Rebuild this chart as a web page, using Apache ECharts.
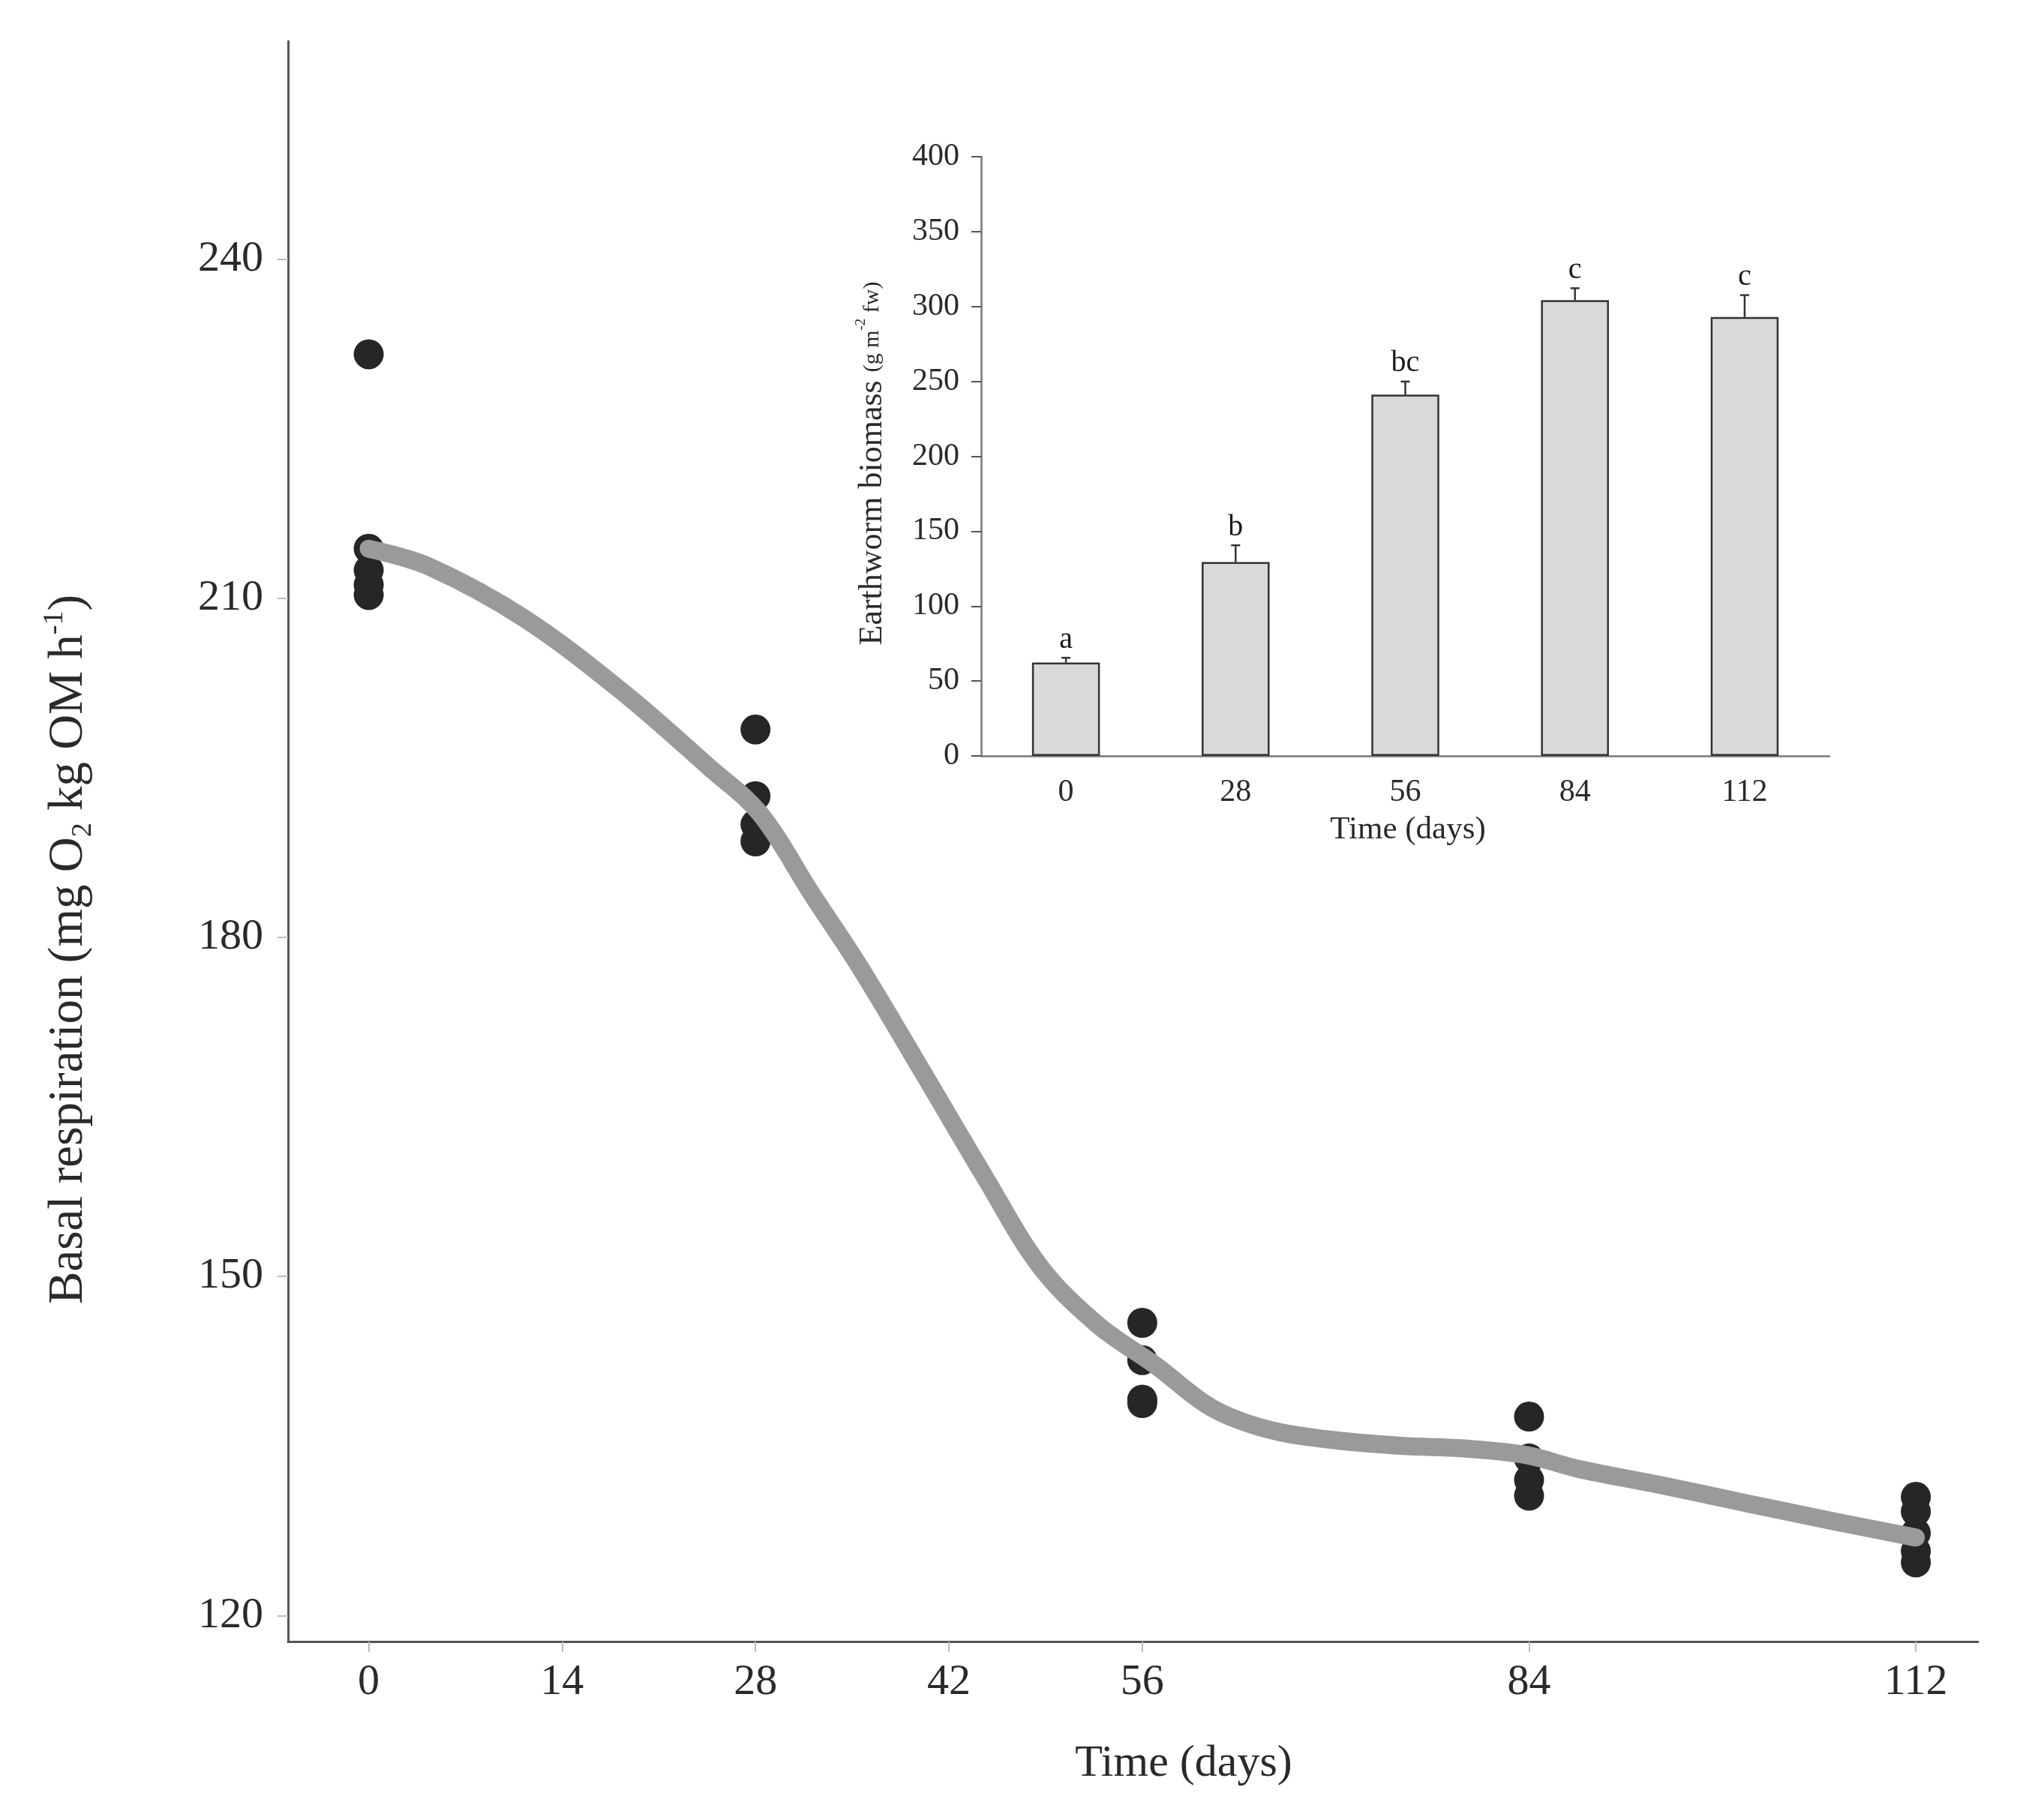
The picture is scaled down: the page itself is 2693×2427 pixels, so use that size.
<!DOCTYPE html>
<html>
<head>
<meta charset="utf-8">
<script src="https://cdn.jsdelivr.net/npm/echarts@6/dist/echarts.min.js"></script>
<style>
    html, body {margin: 0; padding: 0; background: #fff;}
    #container {width: 2693px; height: 2427px;}
</style>
</head>
<body>
<div id="container"></div>
<script>
// main panel: basal respiration
var respTicksX = [0, 14, 28, 42, 56, 84, 112];
var respTicksY = [120, 150, 180, 210, 240];
var sampleDays = [0, 28, 56, 84, 112];
var replicates = [
    [231.6, 214.4, 212.5, 211.2, 210.3],
    [198.4, 192.5, 190.0, 188.5],
    [145.9, 142.6, 139.1, 138.8],
    [137.6, 133.9, 132.0, 130.6],
    [130.5, 129.2, 127.3, 125.7, 124.7]
];
var fitDays = [0, 4.4, 11.3, 18.5, 24.7, 28.3, 32.1, 35.6, 40.1, 44.6, 48.6, 52.7, 57.0, 61.0, 65.0, 69.3, 75.0, 79.1, 83.8, 87.5, 93.7, 99.9, 106.2, 112];
var fitValues = [214.4, 212.8, 208.2, 201.6, 195.0, 191.0, 183.8, 177.3, 168.1, 158.8, 150.9, 145.8, 142.1, 138.4, 136.5, 135.6, 135.0, 134.8, 134.2, 133.0, 131.5, 129.9, 128.3, 126.9];

// inset: earthworm biomass
var biomassDays = ['0', '28', '56', '84', '112'];
var biomassMean = [62.3, 129.4, 241.2, 304.2, 293.0];
var biomassErr = [3.2, 11.2, 8.7, 8.0, 14.6];
var biomassLetters = ['a', 'b', 'bc', 'c', 'c'];

var FONT = 'Liberation Serif';

var scatterData = [];
for (var i = 0; i < sampleDays.length; i++) {
    for (var j = 0; j < replicates[i].length; j++) {
        scatterData.push([sampleDays[i], replicates[i][j]]);
    }
}
var fitData = [];
for (var i = 0; i < fitDays.length; i++) {
    fitData.push([fitDays[i], fitValues[i]]);
}
var errData = [];
for (var i = 0; i < biomassDays.length; i++) {
    errData.push([i, biomassMean[i], biomassMean[i] + biomassErr[i]]);
}

var myChart = echarts.init(document.getElementById('container'));
var option = {
    backgroundColor: '#fff',
    animation: false,
    grid: [
        {left: 384, top: 55, width: 2253, height: 2134},
        {left: 1308, top: 209, width: 1131, height: 799}
    ],
    xAxis: [
        {
            type: 'value', gridIndex: 0, min: -5.84, max: 116.5,
            splitLine: {show: false},
            axisLine: {onZero: false, lineStyle: {color: '#555', width: 3}},
            axisTick: {customValues: respTicksX, length: 14, lineStyle: {color: '#bbb', width: 2}},
            axisLabel: {customValues: respTicksX, fontFamily: FONT, fontSize: 58, color: '#2a2a2a', margin: 26}
        },
        {
            type: 'category', gridIndex: 1, data: biomassDays,
            axisLine: {lineStyle: {color: '#777', width: 2.5}},
            axisTick: {length: 10, lineStyle: {color: '#555', width: 2}},
            axisLabel: {fontFamily: FONT, fontSize: 42, color: '#2a2a2a', margin: 28}
        }
    ],
    yAxis: [
        {
            type: 'value', gridIndex: 0, min: 117.7, max: 259.3,
            splitLine: {show: false},
            axisLine: {show: true, onZero: false, lineStyle: {color: '#555', width: 3}},
            axisTick: {show: true, customValues: respTicksY, length: 14, lineStyle: {color: '#bbb', width: 2}},
            axisLabel: {customValues: respTicksY, fontFamily: FONT, fontSize: 58, color: '#2a2a2a', margin: 33}
        },
        {
            type: 'value', gridIndex: 1, min: 0, max: 400, interval: 50,
            splitLine: {show: false},
            axisLine: {show: true, lineStyle: {color: '#777', width: 2.5}},
            axisTick: {show: true, length: 13, lineStyle: {color: '#555', width: 2}},
            axisLabel: {fontFamily: FONT, fontSize: 42, color: '#2a2a2a', margin: 29}
        }
    ],
    series: [
        {
            type: 'scatter', xAxisIndex: 0, yAxisIndex: 0,
            data: scatterData, symbolSize: 40,
            itemStyle: {color: '#262626', opacity: 1},
            z: 2
        },
        {
            type: 'line', xAxisIndex: 0, yAxisIndex: 0,
            data: fitData, showSymbol: false, smooth: 0.35,
            lineStyle: {color: '#9a9a9a', width: 24, cap: 'round'},
            z: 3
        },
        {
            type: 'bar', xAxisIndex: 1, yAxisIndex: 1,
            data: biomassMean, barWidth: '40%',
            itemStyle: {color: '#d9d9d9', borderColor: '#333', borderWidth: 2.5}
        },
        {
            type: 'custom', xAxisIndex: 1, yAxisIndex: 1,
            data: errData,
            renderItem: function (params, api) {
                var base = api.coord([api.value(0), api.value(1)]);
                var top = api.coord([api.value(0), api.value(2)]);
                return {
                    type: 'group',
                    children: [
                        {type: 'line', shape: {x1: base[0], y1: base[1], x2: top[0], y2: top[1]},
                            style: {stroke: '#333', lineWidth: 2.5}},
                        {type: 'line', shape: {x1: top[0] - 6, y1: top[1], x2: top[0] + 6, y2: top[1]},
                            style: {stroke: '#333', lineWidth: 2.5}},
                        {type: 'text', x: top[0], y: top[1] - 4,
                            style: {text: biomassLetters[params.dataIndex], fontFamily: FONT, fontSize: 40,
                                fill: '#1a1a1a', align: 'center', verticalAlign: 'bottom'}}
                    ]
                };
            },
            z: 5
        }
    ],
    graphic: [
        {
            type: 'text', x: 92, y: 1266, rotation: Math.PI / 2,
            style: {
                text: '{a|Basal respiration (mg O}{sub|2}{a| kg OM h}{sup|-1}{a|)}',
                align: 'center', verticalAlign: 'middle',
                rich: {
                    a: {fontFamily: FONT, fontSize: 65, lineHeight: 76, fill: '#2a2a2a'},
                    sub: {fontFamily: FONT, fontSize: 38, lineHeight: 40, verticalAlign: 'bottom', fill: '#2a2a2a'},
                    sup: {fontFamily: FONT, fontSize: 38, lineHeight: 40, verticalAlign: 'top', fill: '#2a2a2a'}
                }
            }
        },
        {
            type: 'text', x: 1578, y: 2352,
            style: {text: 'Time (days)', fontFamily: FONT, fontSize: 60, fill: '#2a2a2a',
                align: 'center', verticalAlign: 'middle'}
        },
        {
            type: 'text', x: 1163, y: 618, rotation: Math.PI / 2,
            style: {
                text: '{a|Earthworm biomass }{b|(g m}{sup|-2}{b| fw)}',
                align: 'center', verticalAlign: 'middle',
                rich: {
                    a: {fontFamily: FONT, fontSize: 44, lineHeight: 48, fill: '#2a2a2a'},
                    b: {fontFamily: FONT, fontSize: 30, lineHeight: 48, fill: '#2a2a2a'},
                    sup: {fontFamily: FONT, fontSize: 19, lineHeight: 30, verticalAlign: 'top', fill: '#2a2a2a'}
                }
            }
        },
        {
            type: 'text', x: 1877, y: 1107,
            style: {text: 'Time (days)', fontFamily: FONT, fontSize: 43, fill: '#2a2a2a',
                align: 'center', verticalAlign: 'middle'}
        }
    ]
};
myChart.setOption(option);
</script>
</body>
</html>
